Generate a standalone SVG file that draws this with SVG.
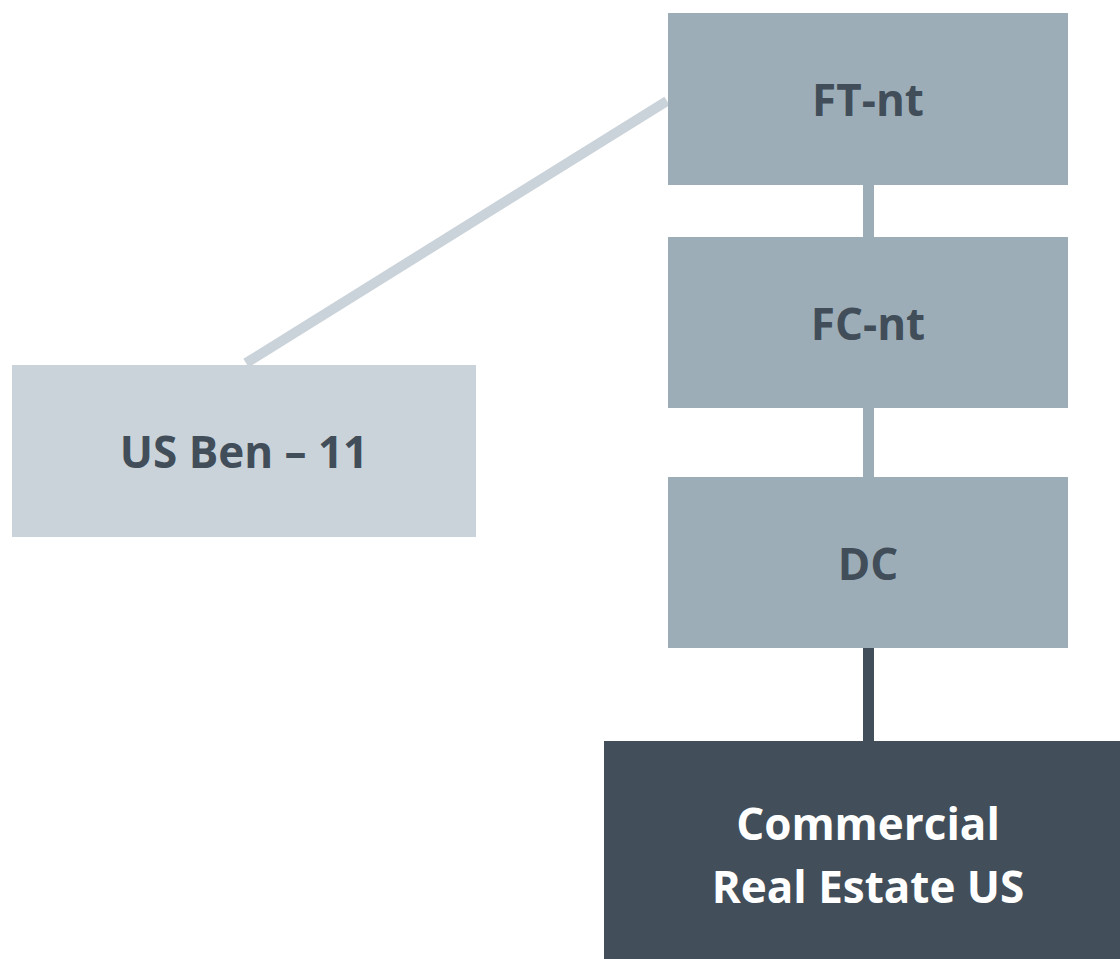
<svg xmlns="http://www.w3.org/2000/svg" width="1120" height="959" viewBox="0 0 1120 959">
<style>
.mid{fill:#9DADB7}
.light{fill:#CBD3DA}
.dark{fill:#424F5A}
text{font-family:"Open Sans","Liberation Sans",sans-serif;font-weight:bold;font-size:44px;text-anchor:middle}
.t1{fill:#414E59}
.t2{fill:#FFFFFF}
</style>
<rect width="1120" height="959" fill="#FFFFFF"/>
<g id="connectors">
<line x1="246" y1="363" x2="667" y2="101" stroke="#CBD3DA" stroke-width="10"/>
<line x1="868.5" y1="185" x2="868.5" y2="237" stroke="#9DADB7" stroke-width="11"/>
<line x1="868.5" y1="408" x2="868.5" y2="477" stroke="#9DADB7" stroke-width="11"/>
<line x1="868.5" y1="648" x2="868.5" y2="741" stroke="#424F5A" stroke-width="11"/>
</g>
<g id="ft-nt">
<rect class="mid" x="668" y="13" width="400" height="172"/>
<text class="t1" x="868" y="116">FT-nt</text>
</g>
<g id="fc-nt">
<rect class="mid" x="668" y="237" width="400" height="171"/>
<text class="t1" x="868" y="340">FC-nt</text>
</g>
<g id="dc">
<rect class="mid" x="668" y="477" width="400" height="171"/>
<text class="t1" x="868" y="580">DC</text>
</g>
<g id="us-ben">
<rect class="light" x="12" y="365" width="464" height="172"/>
<text class="t1" x="244" y="468">US Ben – 11</text>
</g>
<g id="cre-us">
<rect class="dark" x="604" y="741" width="516" height="218"/>
<text class="t2" x="868" y="840">Commercial</text>
<text class="t2" x="868" y="903">Real Estate US</text>
</g>
</svg>
